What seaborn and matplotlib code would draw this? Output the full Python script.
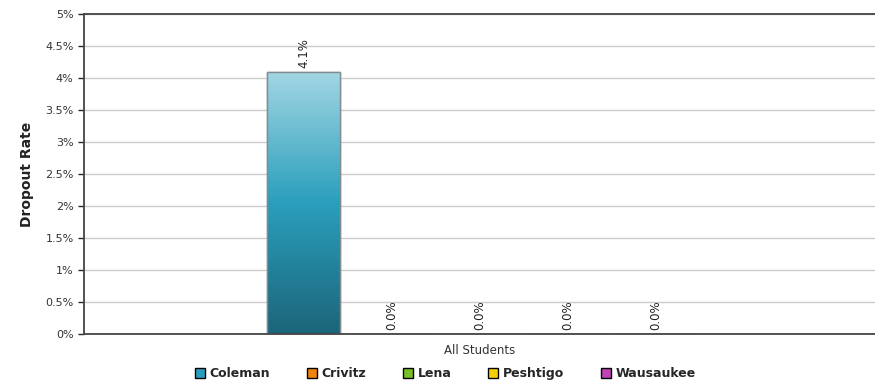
import numpy as np
import pandas as pd
import matplotlib
matplotlib.use("Agg")
import matplotlib.pyplot as plt
from matplotlib.colors import LinearSegmentedColormap
from matplotlib.patches import Patch
import seaborn as sns

# chart data
schools = ["Coleman", "Crivitz", "Lena", "Peshtigo", "Wausaukee"]
rates = [4.1, 0.0, 0.0, 0.0, 0.0]
group = ["All Students"] * 5
colors = ["#2a9fbd", "#f0820f", "#77c025", "#f5d000", "#c042b8"]
yticks = [0, 0.5, 1, 1.5, 2, 2.5, 3, 3.5, 4, 4.5, 5]

df = pd.DataFrame({"group": group, "school": schools, "rate": rates})

sns.set_style("white")
plt.rcParams["font.family"] = ["Verdana", "DejaVu Sans"]

fig = plt.figure(figsize=(8.75, 3.84), dpi=100)
ax = fig.add_axes([0.096, 0.130, 0.904, 0.8335])

sns.barplot(data=df, x="group", y="rate", hue="school", palette=colors,
            width=0.556, gap=0.17, legend=False, ax=ax,
            edgecolor="#7f8c90", linewidth=1.0)

# gradient fill on the bars
grad = LinearSegmentedColormap.from_list("g", ["#1c6579", "#2a9fbd", "#a3d6e3"])
for p in ax.patches:
    h = p.get_height()
    if h <= 0:
        continue
    x0 = p.get_x()
    w = p.get_width()
    im = ax.imshow(np.linspace(0, 1, 256).reshape(-1, 1), cmap=grad, origin="lower",
                   extent=[x0, x0 + w, 0, h], aspect="auto", zorder=p.get_zorder() + 0.1)
    im.set_clip_path(p)
    ax.add_patch(plt.Rectangle((x0, 0), w, h, fill=False, edgecolor="#7f8c90",
                               linewidth=1.0, zorder=p.get_zorder() + 0.2))

# value labels
for p, v in zip(ax.patches, rates):
    ax.text(p.get_x() + p.get_width() / 2, v + 0.06, f"{v:.1f}%", rotation=90,
            ha="center", va="bottom", fontsize=8.5, color="#222222")

ax.set_xlim(-0.5, 0.5)
ax.set_ylim(0, 5)
ax.set_yticks(yticks)
ax.set_yticklabels([f"{t:g}%" for t in yticks], fontsize=8, color="#333333")
ax.set_xlabel("")
ax.tick_params(axis="x", labelsize=8.5, colors="#333333", length=4, width=1)
ax.tick_params(axis="y", length=4, width=1, left=True)
ax.set_ylabel("Dropout Rate", fontsize=10, fontweight="bold", color="#222222", labelpad=8)
ax.yaxis.grid(True, color="#cccccc", linewidth=1)
ax.set_axisbelow(True)
for s in ["left", "top", "bottom"]:
    ax.spines[s].set_color("#444444")
    ax.spines[s].set_linewidth(1.3)
ax.spines["right"].set_visible(False)

handles = [Patch(facecolor=c, edgecolor="black", linewidth=1) for c in colors]
leg = fig.legend(handles, schools, loc="center", bbox_to_anchor=(0.509, 0.027), ncol=5,
                 frameon=False, prop={"weight": "bold", "size": 9},
                 handlelength=0.8, handleheight=0.8, handletextpad=0.35, columnspacing=2.95)

fig.savefig("out.png", dpi=100)
